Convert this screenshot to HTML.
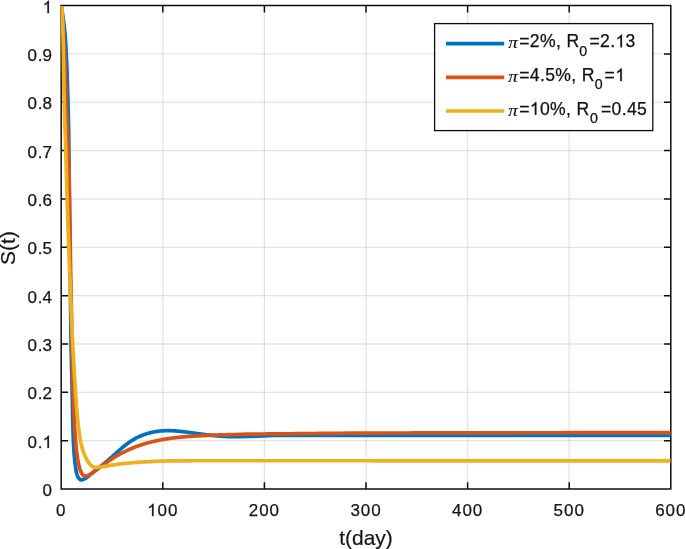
<!DOCTYPE html>
<html><head><meta charset="utf-8"><title>S(t)</title>
<style>
html,body{margin:0;padding:0;background:#fff;}
body{width:685px;height:549px;overflow:hidden;}
svg{display:block;will-change:transform;}
text{font-family:"Liberation Sans",sans-serif;fill:#151515;}
.tk{font-size:17px;stroke:#151515;stroke-width:0.25px;}
.g1{fill:#151515;stroke:#151515;}
path.tk{stroke-width:30.1176;}
path.lg{fill:#111;stroke:#111;stroke-width:29.0909;}
.lb{font-size:21px;stroke:#151515;stroke-width:0.2px;}
.lg{font-size:17.6px;fill:#111;stroke:#111;stroke-width:0.25px;}
</style></head><body>
<svg width="685" height="549" viewBox="0 0 685 549">
<rect x="0" y="0" width="685" height="549" fill="#fff"/>
<path d="M162.80 5.60 V489.00 M264.40 5.60 V489.00 M366.00 5.60 V489.00 M467.60 5.60 V489.00 M569.20 5.60 V489.00" stroke="rgba(30,30,30,0.12)" stroke-width="1.3" fill="none"/>
<path d="M61.20 440.66 H670.80 M61.20 392.32 H670.80 M61.20 343.98 H670.80 M61.20 295.64 H670.80 M61.20 247.30 H670.80 M61.20 198.96 H670.80 M61.20 150.62 H670.80 M61.20 102.28 H670.80 M61.20 53.94 H670.80" stroke="rgba(30,30,30,0.12)" stroke-width="1.3" fill="none"/>
<path d="M61.20 5.60 H670.80 V489.00 H61.20 Z M61.20 489.00 v-6.80 M61.20 5.60 v6.80 M162.80 489.00 v-6.80 M162.80 5.60 v6.80 M264.40 489.00 v-6.80 M264.40 5.60 v6.80 M366.00 489.00 v-6.80 M366.00 5.60 v6.80 M467.60 489.00 v-6.80 M467.60 5.60 v6.80 M569.20 489.00 v-6.80 M569.20 5.60 v6.80 M670.80 489.00 v-6.80 M670.80 5.60 v6.80 M61.20 489.00 h6.80 M670.80 489.00 h-6.80 M61.20 440.66 h6.80 M670.80 440.66 h-6.80 M61.20 392.32 h6.80 M670.80 392.32 h-6.80 M61.20 343.98 h6.80 M670.80 343.98 h-6.80 M61.20 295.64 h6.80 M670.80 295.64 h-6.80 M61.20 247.30 h6.80 M670.80 247.30 h-6.80 M61.20 198.96 h6.80 M670.80 198.96 h-6.80 M61.20 150.62 h6.80 M670.80 150.62 h-6.80 M61.20 102.28 h6.80 M670.80 102.28 h-6.80 M61.20 53.94 h6.80 M670.80 53.94 h-6.80 M61.20 5.60 h6.80 M670.80 5.60 h-6.80" stroke="#0e0e0e" stroke-width="1.5" fill="none" stroke-linecap="butt" stroke-linejoin="miter"/>
<defs><clipPath id="c"><rect x="60.30" y="6.30" width="610.40" height="483.40"/></clipPath></defs>
<g clip-path="url(#c)" fill="none" stroke-width="3.7" stroke-linejoin="round" stroke-linecap="butt">
<path d="M61.30 5.70 L61.90 9.62 L62.48 13.54 L63.05 17.46 L63.59 21.37 L64.09 25.29 L64.55 29.21 L64.95 33.13 L65.29 37.05 L65.56 40.97 L65.80 44.88 L66.01 48.80 L66.22 52.72 L66.41 56.64 L66.58 60.56 L66.75 64.48 L66.90 68.40 L67.05 72.31 L67.18 76.23 L67.31 80.15 L67.44 84.07 L67.55 87.99 L67.67 91.91 L67.78 95.83 L67.89 99.74 L68.00 103.66 L68.11 107.58 L68.22 111.50 L68.32 115.42 L68.41 119.34 L68.50 123.25 L68.59 127.17 L68.66 131.09 L68.73 135.01 L68.79 138.93 L68.83 142.85 L68.88 146.77 L68.92 150.68 L68.95 154.60 L68.99 158.52 L69.02 162.44 L69.04 166.36 L69.07 170.28 L69.10 174.19 L69.13 178.11 L69.15 182.03 L69.18 185.95 L69.21 189.87 L69.24 193.79 L69.28 197.71 L69.32 201.62 L69.36 205.54 L69.40 209.46 L69.44 213.38 L69.49 217.30 L69.54 221.22 L69.59 225.14 L69.64 229.05 L69.69 232.97 L69.74 236.89 L69.79 240.81 L69.84 244.73 L69.89 248.65 L69.95 252.56 L70.00 256.48 L70.05 260.40 L70.10 264.32 L70.15 268.24 L70.20 272.16 L70.25 276.08 L70.30 279.99 L70.35 283.91 L70.39 287.83 L70.43 291.75 L70.47 295.67 L70.51 299.59 L70.55 303.51 L70.60 307.42 L70.64 311.34 L70.68 315.26 L70.72 319.18 L70.77 323.10 L70.82 327.02 L70.87 330.93 L70.92 334.85 L70.98 338.77 L71.04 342.69 L71.12 346.61 L71.20 350.53 L71.28 354.45 L71.38 358.36 L71.47 362.28 L71.57 366.20 L71.66 370.12 L71.76 374.04 L71.85 377.96 L71.94 381.87 L72.03 385.79 L72.11 389.71 L72.18 393.63 L72.26 397.55 L72.33 401.47 L72.41 405.39 L72.49 409.30 L72.57 413.22 L72.66 417.14 L72.75 421.06 L72.86 424.98 L72.97 428.90 L73.09 432.82 L73.23 436.73 L73.39 440.65 L73.58 444.57 L73.81 448.49 L74.07 452.41 L74.36 456.33 L74.71 460.24 L75.16 464.16 L75.71 468.08 L76.30 472.00 L76.81 473.77 L77.33 475.38 L77.84 476.72 L78.36 477.70 L78.87 478.35 L79.38 478.92 L79.90 479.41 L80.41 479.77 L80.93 479.97 L81.44 479.99 L81.95 479.91 L82.47 479.77 L82.98 479.58 L83.50 479.35 L84.01 479.10 L84.52 478.84 L85.04 478.58 L85.55 478.31 L86.07 478.00 L86.58 477.66 L87.09 477.29 L87.61 476.89 L88.12 476.47 L88.64 476.04 L89.15 475.60 L89.67 475.16 L90.18 474.71 L90.69 474.27 L91.21 473.84 L91.72 473.42 L92.24 473.02 L92.75 472.61 L93.26 472.21 L93.78 471.81 L94.29 471.40 L94.81 471.00 L95.32 470.59 L95.83 470.19 L96.35 469.78 L96.86 469.38 L97.38 468.98 L97.89 468.58 L98.40 468.17 L98.92 467.77 L99.43 467.37 L99.95 466.97 L100.46 466.56 L100.97 466.16 L101.49 465.75 L102.00 465.33 L102.52 464.91 L103.03 464.49 L103.54 464.06 L104.06 463.63 L104.57 463.20 L105.09 462.77 L105.60 462.34 L106.11 461.91 L106.63 461.47 L107.14 461.03 L107.66 460.59 L108.17 460.15 L108.68 459.71 L109.20 459.27 L109.71 458.82 L110.23 458.37 L110.74 457.92 L111.26 457.47 L111.77 457.02 L112.28 456.56 L112.80 456.11 L113.31 455.65 L113.83 455.19 L114.34 454.73 L114.85 454.26 L115.37 453.80 L115.88 453.34 L116.40 452.87 L116.91 452.41 L117.42 451.95 L117.94 451.49 L118.45 451.03 L118.97 450.57 L119.48 450.12 L119.99 449.67 L120.51 449.22 L121.02 448.77 L121.54 448.33 L122.05 447.89 L122.56 447.46 L123.08 447.03 L123.59 446.60 L124.11 446.18 L124.62 445.77 L125.13 445.36 L125.65 444.96 L126.16 444.56 L126.68 444.16 L127.19 443.78 L127.70 443.40 L128.22 443.02 L128.73 442.66 L129.25 442.29 L129.76 441.94 L130.27 441.59 L130.79 441.25 L131.30 440.92 L131.82 440.59 L132.33 440.27 L132.85 439.96 L133.36 439.65 L133.87 439.35 L134.39 439.06 L134.90 438.77 L135.42 438.49 L135.93 438.22 L136.44 437.95 L136.96 437.68 L137.47 437.43 L137.99 437.18 L138.50 436.93 L139.01 436.69 L139.53 436.46 L140.04 436.23 L140.56 436.01 L141.07 435.79 L141.58 435.58 L142.10 435.37 L142.61 435.17 L143.13 434.97 L143.64 434.78 L144.15 434.59 L144.67 434.41 L145.18 434.24 L145.70 434.07 L146.21 433.90 L146.72 433.74 L147.24 433.58 L147.75 433.43 L148.27 433.28 L148.78 433.14 L149.29 433.00 L149.81 432.87 L150.32 432.74 L150.84 432.61 L151.35 432.49 L151.86 432.37 L152.38 432.26 L152.89 432.15 L153.41 432.05 L153.92 431.95 L154.44 431.86 L154.95 431.76 L155.46 431.68 L155.98 431.59 L156.49 431.51 L157.01 431.44 L157.52 431.36 L158.03 431.30 L158.55 431.23 L159.06 431.17 L159.58 431.11 L160.09 431.06 L160.60 431.01 L161.12 430.96 L161.63 430.92 L162.15 430.88 L162.66 430.85 L163.17 430.81 L163.69 430.78 L164.20 430.76 L164.72 430.73 L165.23 430.72 L165.74 430.70 L166.26 430.69 L166.77 430.68 L167.29 430.67 L167.80 430.67 L168.31 430.67 L168.83 430.67 L169.34 430.67 L169.86 430.68 L170.37 430.69 L170.88 430.71 L171.40 430.73 L171.91 430.75 L172.43 430.77 L172.94 430.79 L173.45 430.82 L173.97 430.85 L174.48 430.88 L175.00 430.92 L175.51 430.95 L176.03 430.99 L176.54 431.03 L177.05 431.07 L177.57 431.12 L178.08 431.16 L178.60 431.21 L179.11 431.26 L179.62 431.31 L180.14 431.36 L180.65 431.42 L181.17 431.47 L181.68 431.53 L182.19 431.58 L182.71 431.64 L183.22 431.70 L183.74 431.76 L184.25 431.82 L184.76 431.89 L185.28 431.95 L185.79 432.01 L186.31 432.08 L186.82 432.14 L187.33 432.21 L187.85 432.28 L188.36 432.34 L188.88 432.41 L189.39 432.48 L189.90 432.55 L190.42 432.62 L190.93 432.69 L191.45 432.76 L191.96 432.83 L192.47 432.90 L192.99 432.97 L193.50 433.04 L194.02 433.11 L194.53 433.18 L195.04 433.25 L195.56 433.32 L196.07 433.39 L196.59 433.46 L197.10 433.53 L197.62 433.60 L198.13 433.67 L198.64 433.74 L199.16 433.81 L199.67 433.88 L200.19 433.95 L200.70 434.02 L201.21 434.09 L201.73 434.16 L202.24 434.23 L202.76 434.29 L203.27 434.36 L203.78 434.42 L204.30 434.49 L204.81 434.56 L205.33 434.62 L205.84 434.68 L206.35 434.75 L206.87 434.81 L207.38 434.87 L207.90 434.93 L208.41 434.99 L208.92 435.05 L209.44 435.11 L209.95 435.17 L210.47 435.23 L210.98 435.28 L211.49 435.34 L212.01 435.39 L212.52 435.45 L213.04 435.50 L213.55 435.55 L214.06 435.60 L214.58 435.65 L215.09 435.70 L215.61 435.75 L216.12 435.80 L216.63 435.84 L217.15 435.89 L217.66 435.93 L218.18 435.97 L218.69 436.02 L219.21 436.06 L219.72 436.10 L220.23 436.14 L220.75 436.17 L221.26 436.21 L221.78 436.24 L222.29 436.28 L222.80 436.31 L223.32 436.34 L223.83 436.37 L224.35 436.40 L224.86 436.43 L225.37 436.46 L225.89 436.48 L226.40 436.50 L226.92 436.53 L227.43 436.55 L227.94 436.57 L228.46 436.59 L228.97 436.61 L229.49 436.62 L230.00 436.64 L235.58 436.71 L241.16 436.66 L246.74 436.52 L252.32 436.32 L257.90 436.07 L263.48 435.82 L269.06 435.63 L274.64 435.50 L280.22 435.45 L285.80 435.42 L291.38 435.40 L296.96 435.39 L302.54 435.37 L308.12 435.36 L313.70 435.35 L319.28 435.35 L324.86 435.35 L330.44 435.35 L336.02 435.35 L341.59 435.35 L347.17 435.36 L352.75 435.36 L358.33 435.36 L363.91 435.36 L369.49 435.37 L375.07 435.37 L380.65 435.37 L386.23 435.38 L391.81 435.38 L397.39 435.38 L402.97 435.39 L408.55 435.39 L414.13 435.39 L419.71 435.39 L425.29 435.40 L430.87 435.40 L436.45 435.40 L442.03 435.40 L447.61 435.40 L453.19 435.40 L458.77 435.40 L464.35 435.40 L469.93 435.40 L475.51 435.40 L481.09 435.40 L486.67 435.40 L492.25 435.40 L497.83 435.40 L503.41 435.40 L508.99 435.40 L514.57 435.40 L520.15 435.40 L525.73 435.40 L531.31 435.40 L536.89 435.40 L542.47 435.40 L548.05 435.40 L553.63 435.40 L559.21 435.40 L564.78 435.40 L570.36 435.40 L575.94 435.40 L581.52 435.40 L587.10 435.40 L592.68 435.40 L598.26 435.40 L603.84 435.40 L609.42 435.40 L615.00 435.40 L620.58 435.40 L626.16 435.40 L631.74 435.40 L637.32 435.40 L642.90 435.40 L648.48 435.40 L654.06 435.40 L659.64 435.40 L665.22 435.40 L670.80 435.40" stroke="#0072BD"/>
<path d="M61.30 5.70 L61.66 9.58 L62.02 13.46 L62.36 17.34 L62.70 21.22 L63.01 25.09 L63.31 28.97 L63.58 32.85 L63.82 36.73 L64.03 40.61 L64.22 44.49 L64.40 48.37 L64.56 52.25 L64.72 56.13 L64.86 60.01 L65.00 63.88 L65.13 67.76 L65.25 71.64 L65.38 75.52 L65.50 79.40 L65.62 83.28 L65.75 87.16 L65.88 91.04 L66.01 94.92 L66.15 98.80 L66.30 102.67 L66.46 106.55 L66.61 110.43 L66.77 114.31 L66.93 118.19 L67.09 122.07 L67.25 125.95 L67.41 129.83 L67.56 133.71 L67.71 137.59 L67.86 141.46 L68.00 145.34 L68.15 149.22 L68.31 153.10 L68.46 156.98 L68.60 160.86 L68.74 164.74 L68.87 168.62 L69.00 172.50 L69.11 176.38 L69.21 180.25 L69.29 184.13 L69.37 188.01 L69.45 191.89 L69.51 195.77 L69.58 199.65 L69.64 203.53 L69.70 207.41 L69.76 211.29 L69.82 215.17 L69.88 219.04 L69.95 222.92 L70.01 226.80 L70.07 230.68 L70.12 234.56 L70.18 238.44 L70.23 242.32 L70.29 246.20 L70.34 250.08 L70.40 253.96 L70.45 257.83 L70.51 261.71 L70.57 265.59 L70.63 269.47 L70.69 273.35 L70.75 277.23 L70.82 281.11 L70.89 284.99 L70.96 288.87 L71.04 292.75 L71.12 296.62 L71.20 300.50 L71.28 304.38 L71.36 308.26 L71.44 312.14 L71.52 316.02 L71.60 319.90 L71.67 323.78 L71.75 327.66 L71.82 331.54 L71.89 335.41 L71.95 339.29 L72.02 343.17 L72.09 347.05 L72.16 350.93 L72.23 354.81 L72.31 358.69 L72.39 362.57 L72.47 366.45 L72.56 370.33 L72.65 374.20 L72.75 378.08 L72.85 381.96 L72.97 385.84 L73.08 389.72 L73.21 393.60 L73.34 397.48 L73.48 401.36 L73.63 405.24 L73.79 409.12 L73.95 412.99 L74.13 416.87 L74.32 420.75 L74.53 424.63 L74.74 428.51 L74.97 432.39 L75.22 436.27 L75.50 440.15 L75.84 444.03 L76.23 447.91 L76.67 451.78 L77.17 455.66 L77.74 459.54 L78.51 463.42 L79.40 467.30 L79.90 468.97 L80.41 470.51 L80.91 471.83 L81.41 472.86 L81.92 473.66 L82.42 474.42 L82.93 475.10 L83.43 475.65 L83.93 476.04 L84.44 476.20 L84.94 476.18 L85.44 476.12 L85.95 476.01 L86.45 475.88 L86.96 475.74 L87.46 475.57 L87.96 475.41 L88.47 475.24 L88.97 475.02 L89.47 474.78 L89.98 474.50 L90.48 474.20 L90.98 473.88 L91.49 473.55 L91.99 473.19 L92.50 472.83 L93.00 472.46 L93.50 472.09 L94.01 471.72 L94.51 471.35 L95.01 470.98 L95.52 470.61 L96.02 470.23 L96.53 469.83 L97.03 469.42 L97.53 469.00 L98.04 468.59 L98.54 468.18 L99.04 467.77 L99.55 467.38 L100.05 466.99 L100.55 466.61 L101.06 466.24 L101.56 465.89 L102.07 465.53 L102.57 465.19 L103.07 464.85 L103.58 464.51 L104.08 464.16 L104.58 463.82 L105.09 463.47 L105.59 463.13 L106.09 462.78 L106.60 462.43 L107.10 462.09 L107.61 461.74 L108.11 461.40 L108.61 461.06 L109.12 460.72 L109.62 460.39 L110.12 460.06 L110.63 459.72 L111.13 459.40 L111.64 459.07 L112.14 458.75 L112.64 458.43 L113.15 458.11 L113.65 457.79 L114.15 457.48 L114.66 457.17 L115.16 456.86 L115.66 456.56 L116.17 456.26 L116.67 455.96 L117.18 455.66 L117.68 455.37 L118.18 455.08 L118.69 454.79 L119.19 454.51 L119.69 454.23 L120.20 453.95 L120.70 453.67 L121.21 453.40 L121.71 453.13 L122.21 452.86 L122.72 452.60 L123.22 452.34 L123.72 452.08 L124.23 451.82 L124.73 451.57 L125.23 451.32 L125.74 451.07 L126.24 450.83 L126.75 450.59 L127.25 450.35 L127.75 450.12 L128.26 449.89 L128.76 449.66 L129.26 449.43 L129.77 449.21 L130.27 448.99 L130.78 448.78 L131.28 448.56 L131.78 448.35 L132.29 448.14 L132.79 447.93 L133.29 447.73 L133.80 447.53 L134.30 447.33 L134.80 447.14 L135.31 446.94 L135.81 446.75 L136.32 446.56 L136.82 446.38 L137.32 446.19 L137.83 446.01 L138.33 445.83 L138.83 445.66 L139.34 445.48 L139.84 445.31 L140.35 445.14 L140.85 444.97 L141.35 444.81 L141.86 444.65 L142.36 444.48 L142.86 444.33 L143.37 444.17 L143.87 444.01 L144.37 443.86 L144.88 443.71 L145.38 443.56 L145.89 443.42 L146.39 443.27 L146.89 443.13 L147.40 442.99 L147.90 442.85 L148.40 442.71 L148.91 442.58 L149.41 442.44 L149.92 442.31 L150.42 442.18 L150.92 442.06 L151.43 441.93 L151.93 441.81 L152.43 441.68 L152.94 441.56 L153.44 441.44 L153.94 441.33 L154.45 441.21 L154.95 441.10 L155.46 440.99 L155.96 440.87 L156.46 440.77 L156.97 440.66 L157.47 440.55 L157.97 440.45 L158.48 440.35 L158.98 440.24 L159.48 440.14 L159.99 440.05 L160.49 439.95 L161.00 439.85 L161.50 439.76 L162.00 439.67 L162.51 439.58 L163.01 439.49 L163.51 439.40 L164.02 439.31 L164.52 439.23 L165.03 439.14 L165.53 439.06 L166.03 438.98 L166.54 438.90 L167.04 438.82 L167.54 438.75 L168.05 438.67 L168.55 438.60 L169.05 438.52 L169.56 438.45 L170.06 438.38 L170.57 438.31 L171.07 438.24 L171.57 438.17 L172.08 438.11 L172.58 438.04 L173.08 437.98 L173.59 437.92 L174.09 437.86 L174.60 437.80 L175.10 437.74 L175.60 437.68 L176.11 437.62 L176.61 437.56 L177.11 437.51 L177.62 437.45 L178.12 437.40 L178.62 437.35 L179.13 437.30 L179.63 437.25 L180.14 437.20 L180.64 437.15 L181.14 437.10 L181.65 437.05 L182.15 437.00 L182.65 436.96 L183.16 436.91 L183.66 436.87 L184.17 436.83 L184.67 436.78 L185.17 436.74 L185.68 436.70 L186.18 436.66 L186.68 436.62 L187.19 436.58 L187.69 436.54 L188.19 436.50 L188.70 436.47 L189.20 436.43 L189.71 436.39 L190.21 436.36 L190.71 436.32 L191.22 436.29 L191.72 436.25 L192.22 436.22 L192.73 436.19 L193.23 436.15 L193.74 436.12 L194.24 436.09 L194.74 436.06 L195.25 436.03 L195.75 436.00 L196.25 435.97 L196.76 435.94 L197.26 435.91 L197.76 435.88 L198.27 435.85 L198.77 435.83 L199.28 435.80 L199.78 435.77 L200.28 435.75 L200.79 435.72 L201.29 435.70 L201.79 435.67 L202.30 435.65 L202.80 435.62 L203.31 435.60 L203.81 435.57 L204.31 435.55 L204.82 435.53 L205.32 435.50 L205.82 435.48 L206.33 435.46 L206.83 435.44 L207.33 435.41 L207.84 435.39 L208.34 435.37 L208.85 435.35 L209.35 435.33 L209.85 435.31 L210.36 435.29 L210.86 435.27 L211.36 435.25 L211.87 435.23 L212.37 435.21 L212.87 435.19 L213.38 435.17 L213.88 435.15 L214.39 435.13 L214.89 435.11 L215.39 435.10 L215.90 435.08 L216.40 435.06 L216.90 435.04 L217.41 435.02 L217.91 435.01 L218.42 434.99 L218.92 434.97 L219.42 434.95 L219.93 434.94 L220.43 434.92 L220.93 434.90 L221.44 434.89 L221.94 434.87 L222.44 434.85 L222.95 434.84 L223.45 434.82 L223.96 434.81 L224.46 434.79 L224.96 434.78 L225.47 434.76 L225.97 434.75 L226.47 434.73 L226.98 434.72 L227.48 434.70 L227.99 434.69 L228.49 434.67 L228.99 434.66 L229.50 434.64 L230.00 434.63 L235.58 434.48 L241.16 434.35 L246.74 434.22 L252.32 434.12 L257.90 434.04 L263.48 433.98 L269.06 433.93 L274.64 433.90 L280.22 433.85 L285.80 433.79 L291.38 433.73 L296.96 433.67 L302.54 433.61 L308.12 433.55 L313.70 433.50 L319.28 433.44 L324.86 433.39 L330.44 433.34 L336.02 433.30 L341.59 433.25 L347.17 433.22 L352.75 433.18 L358.33 433.16 L363.91 433.13 L369.49 433.11 L375.07 433.09 L380.65 433.07 L386.23 433.05 L391.81 433.03 L397.39 433.02 L402.97 433.00 L408.55 432.98 L414.13 432.97 L419.71 432.95 L425.29 432.94 L430.87 432.92 L436.45 432.91 L442.03 432.90 L447.61 432.89 L453.19 432.88 L458.77 432.87 L464.35 432.85 L469.93 432.85 L475.51 432.84 L481.09 432.83 L486.67 432.82 L492.25 432.81 L497.83 432.80 L503.41 432.80 L508.99 432.79 L514.57 432.78 L520.15 432.77 L525.73 432.77 L531.31 432.76 L536.89 432.75 L542.47 432.75 L548.05 432.74 L553.63 432.73 L559.21 432.73 L564.78 432.72 L570.36 432.71 L575.94 432.71 L581.52 432.70 L587.10 432.70 L592.68 432.69 L598.26 432.68 L603.84 432.68 L609.42 432.68 L615.00 432.67 L620.58 432.67 L626.16 432.66 L631.74 432.66 L637.32 432.66 L642.90 432.66 L648.48 432.65 L654.06 432.65 L659.64 432.65 L665.22 432.65 L670.80 432.65" stroke="#D95319"/>
<path d="M62.10 5.70 L62.23 9.50 L62.35 13.30 L62.47 17.10 L62.59 20.90 L62.71 24.70 L62.81 28.51 L62.92 32.31 L63.01 36.11 L63.10 39.91 L63.18 43.71 L63.25 47.51 L63.32 51.31 L63.38 55.11 L63.44 58.91 L63.49 62.71 L63.55 66.51 L63.60 70.31 L63.65 74.12 L63.71 77.92 L63.76 81.72 L63.82 85.52 L63.89 89.32 L63.96 93.12 L64.03 96.92 L64.12 100.72 L64.21 104.52 L64.32 108.32 L64.44 112.12 L64.56 115.92 L64.70 119.73 L64.83 123.53 L64.97 127.33 L65.10 131.13 L65.23 134.93 L65.36 138.73 L65.48 142.53 L65.60 146.33 L65.71 150.13 L65.83 153.93 L65.94 157.73 L66.05 161.53 L66.16 165.34 L66.28 169.14 L66.39 172.94 L66.50 176.74 L66.62 180.54 L66.73 184.34 L66.84 188.14 L66.95 191.94 L67.06 195.74 L67.17 199.54 L67.28 203.34 L67.40 207.14 L67.51 210.95 L67.63 214.75 L67.75 218.55 L67.88 222.35 L68.01 226.15 L68.14 229.95 L68.27 233.75 L68.40 237.55 L68.54 241.35 L68.68 245.15 L68.82 248.95 L68.96 252.75 L69.10 256.56 L69.25 260.36 L69.39 264.16 L69.54 267.96 L69.68 271.76 L69.83 275.56 L69.98 279.36 L70.12 283.16 L70.27 286.96 L70.42 290.76 L70.56 294.56 L70.71 298.36 L70.87 302.17 L71.02 305.97 L71.17 309.77 L71.33 313.57 L71.49 317.37 L71.65 321.17 L71.81 324.97 L71.98 328.77 L72.15 332.57 L72.32 336.37 L72.51 340.17 L72.70 343.97 L72.90 347.78 L73.11 351.58 L73.32 355.38 L73.54 359.18 L73.76 362.98 L73.99 366.78 L74.22 370.58 L74.45 374.38 L74.69 378.18 L74.92 381.98 L75.15 385.78 L75.38 389.58 L75.61 393.39 L75.86 397.19 L76.11 400.99 L76.39 404.79 L76.68 408.59 L77.01 412.39 L77.35 416.19 L77.72 419.99 L78.12 423.79 L78.56 427.59 L79.04 431.39 L79.57 435.19 L80.16 439.00 L80.88 442.80 L81.76 446.60 L82.82 450.40 L84.23 454.20 L85.90 458.00 L86.38 458.89 L86.86 459.74 L87.35 460.54 L87.83 461.31 L88.31 462.03 L88.79 462.70 L89.27 463.33 L89.76 463.90 L90.24 464.48 L90.72 465.03 L91.20 465.53 L91.68 465.97 L92.17 466.32 L92.65 466.56 L93.13 466.77 L93.61 466.96 L94.09 467.11 L94.57 467.23 L95.06 467.29 L95.54 467.29 L96.02 467.28 L96.50 467.26 L96.98 467.23 L97.47 467.20 L97.95 467.17 L98.43 467.14 L98.91 467.11 L99.39 467.08 L99.88 467.05 L100.36 467.01 L100.84 466.97 L101.32 466.93 L101.80 466.87 L102.29 466.81 L102.77 466.74 L103.25 466.67 L103.73 466.59 L104.21 466.50 L104.70 466.42 L105.18 466.33 L105.66 466.23 L106.14 466.14 L106.62 466.05 L107.11 465.96 L107.59 465.88 L108.07 465.79 L108.55 465.71 L109.03 465.62 L109.52 465.54 L110.00 465.46 L110.48 465.38 L110.96 465.30 L111.44 465.22 L111.92 465.15 L112.41 465.07 L112.89 464.99 L113.37 464.92 L113.85 464.85 L114.33 464.78 L114.82 464.71 L115.30 464.64 L115.78 464.57 L116.26 464.50 L116.74 464.44 L117.23 464.37 L117.71 464.31 L118.19 464.24 L118.67 464.18 L119.15 464.12 L119.64 464.06 L120.12 464.00 L120.60 463.94 L121.08 463.88 L121.56 463.82 L122.05 463.77 L122.53 463.71 L123.01 463.66 L123.49 463.60 L123.97 463.55 L124.46 463.50 L124.94 463.45 L125.42 463.40 L125.90 463.35 L126.38 463.30 L126.86 463.25 L127.35 463.20 L127.83 463.15 L128.31 463.11 L128.79 463.06 L129.27 463.02 L129.76 462.97 L130.24 462.93 L130.72 462.89 L131.20 462.84 L131.68 462.80 L132.17 462.76 L132.65 462.72 L133.13 462.68 L133.61 462.64 L134.09 462.60 L134.58 462.57 L135.06 462.53 L135.54 462.49 L136.02 462.46 L136.50 462.42 L136.99 462.39 L137.47 462.35 L137.95 462.32 L138.43 462.28 L138.91 462.25 L139.40 462.22 L139.88 462.19 L140.36 462.16 L140.84 462.12 L141.32 462.09 L141.81 462.06 L142.29 462.04 L142.77 462.01 L143.25 461.98 L143.73 461.95 L144.21 461.92 L144.70 461.89 L145.18 461.87 L145.66 461.84 L146.14 461.82 L146.62 461.79 L147.11 461.76 L147.59 461.74 L148.07 461.72 L148.55 461.69 L149.03 461.67 L149.52 461.64 L150.00 461.62 L150.48 461.60 L150.96 461.58 L151.44 461.55 L151.93 461.53 L152.41 461.51 L152.89 461.48 L153.37 461.46 L153.85 461.44 L154.34 461.42 L154.82 461.40 L155.30 461.37 L155.78 461.35 L156.26 461.33 L156.75 461.31 L157.23 461.29 L157.71 461.27 L158.19 461.25 L158.67 461.23 L159.15 461.21 L159.64 461.19 L160.12 461.17 L160.60 461.15 L161.08 461.14 L161.56 461.12 L162.05 461.10 L162.53 461.09 L163.01 461.07 L163.49 461.06 L163.97 461.04 L164.46 461.03 L164.94 461.02 L165.42 461.01 L165.90 461.00 L166.38 460.99 L166.87 460.98 L167.35 460.97 L167.83 460.96 L168.31 460.95 L168.79 460.94 L169.28 460.93 L169.76 460.93 L170.24 460.92 L170.72 460.91 L171.20 460.91 L171.69 460.90 L172.17 460.90 L172.65 460.90 L173.13 460.89 L173.61 460.89 L174.09 460.88 L174.58 460.88 L175.06 460.88 L175.54 460.87 L176.02 460.87 L176.50 460.87 L176.99 460.87 L177.47 460.86 L177.95 460.86 L178.43 460.86 L178.91 460.86 L179.40 460.85 L179.88 460.85 L180.36 460.85 L180.84 460.84 L181.32 460.84 L181.81 460.84 L182.29 460.83 L182.77 460.83 L183.25 460.83 L183.73 460.82 L184.22 460.82 L184.70 460.82 L185.18 460.81 L185.66 460.81 L186.14 460.81 L186.63 460.81 L187.11 460.80 L187.59 460.80 L188.07 460.80 L188.55 460.79 L189.04 460.79 L189.52 460.79 L190.00 460.78 L190.48 460.78 L190.96 460.78 L191.44 460.78 L191.93 460.77 L192.41 460.77 L192.89 460.77 L193.37 460.77 L193.85 460.76 L194.34 460.76 L194.82 460.76 L195.30 460.76 L195.78 460.76 L196.26 460.76 L196.75 460.75 L197.23 460.75 L197.71 460.75 L198.19 460.75 L198.67 460.75 L199.16 460.75 L199.64 460.75 L200.12 460.75 L200.60 460.75 L201.08 460.75 L201.57 460.75 L202.05 460.75 L202.53 460.75 L203.01 460.75 L203.49 460.75 L203.98 460.75 L204.46 460.75 L204.94 460.75 L205.42 460.75 L205.90 460.75 L206.38 460.75 L206.87 460.75 L207.35 460.75 L207.83 460.75 L208.31 460.75 L208.79 460.75 L209.28 460.75 L209.76 460.75 L210.24 460.75 L210.72 460.75 L211.20 460.75 L211.69 460.75 L212.17 460.75 L212.65 460.75 L213.13 460.75 L213.61 460.75 L214.10 460.75 L214.58 460.75 L215.06 460.75 L215.54 460.75 L216.02 460.75 L216.51 460.75 L216.99 460.75 L217.47 460.75 L217.95 460.75 L218.43 460.75 L218.92 460.75 L219.40 460.75 L219.88 460.75 L220.36 460.75 L220.84 460.75 L221.33 460.75 L221.81 460.75 L222.29 460.75 L222.77 460.75 L223.25 460.75 L223.73 460.75 L224.22 460.75 L224.70 460.75 L225.18 460.75 L225.66 460.75 L226.14 460.75 L226.63 460.75 L227.11 460.75 L227.59 460.75 L228.07 460.75 L228.55 460.75 L229.04 460.75 L229.52 460.75 L230.00 460.75 L235.58 460.75 L241.16 460.75 L246.74 460.75 L252.32 460.75 L257.90 460.75 L263.48 460.75 L269.06 460.75 L274.64 460.75 L280.22 460.75 L285.80 460.75 L291.38 460.75 L296.96 460.75 L302.54 460.75 L308.12 460.75 L313.70 460.75 L319.28 460.75 L324.86 460.75 L330.44 460.76 L336.02 460.76 L341.59 460.76 L347.17 460.76 L352.75 460.76 L358.33 460.77 L363.91 460.77 L369.49 460.77 L375.07 460.78 L380.65 460.78 L386.23 460.78 L391.81 460.78 L397.39 460.79 L402.97 460.79 L408.55 460.79 L414.13 460.79 L419.71 460.79 L425.29 460.80 L430.87 460.80 L436.45 460.80 L442.03 460.80 L447.61 460.80 L453.19 460.80 L458.77 460.80 L464.35 460.80 L469.93 460.80 L475.51 460.80 L481.09 460.80 L486.67 460.80 L492.25 460.80 L497.83 460.80 L503.41 460.80 L508.99 460.80 L514.57 460.80 L520.15 460.80 L525.73 460.80 L531.31 460.80 L536.89 460.80 L542.47 460.80 L548.05 460.80 L553.63 460.80 L559.21 460.80 L564.78 460.80 L570.36 460.80 L575.94 460.80 L581.52 460.80 L587.10 460.80 L592.68 460.80 L598.26 460.80 L603.84 460.80 L609.42 460.80 L615.00 460.80 L620.58 460.80 L626.16 460.80 L631.74 460.80 L637.32 460.80 L642.90 460.80 L648.48 460.80 L654.06 460.80 L659.64 460.80 L665.22 460.80 L670.80 460.80" stroke="#EDB120"/>
</g>
<text class="tk" x="56.00" y="516.00">0</text>
<path class="g1 tk" transform="translate(147.20,516.00) scale(0.00830,-0.00830)" d="M763 0H583V1147Q518 1085 412.5 1023T223 930V1104Q374 1175 487 1276T647 1472H763Z"/>
<text class="tk" x="157.60 168.00" y="516.00">00</text>
<text class="tk" x="248.80 259.20 269.60" y="516.00">200</text>
<text class="tk" x="350.40 360.80 371.20" y="516.00">300</text>
<text class="tk" x="452.00 462.40 472.80" y="516.00">400</text>
<text class="tk" x="553.60 564.00 574.40" y="516.00">500</text>
<text class="tk" x="655.20 665.60 676.00" y="516.00">600</text>
<text class="tk" x="42.60" y="496.00">0</text>
<text class="tk" x="27.45 37.85" y="448.00">0.</text>
<path class="g1 tk" transform="translate(42.60,448.00) scale(0.00830,-0.00830)" d="M763 0H583V1147Q518 1085 412.5 1023T223 930V1104Q374 1175 487 1276T647 1472H763Z"/>
<text class="tk" x="27.45 37.85 42.60" y="399.00">0.2</text>
<text class="tk" x="27.45 37.85 42.60" y="351.00">0.3</text>
<text class="tk" x="27.45 37.85 42.60" y="303.00">0.4</text>
<text class="tk" x="27.45 37.85 42.60" y="254.00">0.5</text>
<text class="tk" x="27.45 37.85 42.60" y="206.00">0.6</text>
<text class="tk" x="27.45 37.85 42.60" y="158.00">0.7</text>
<text class="tk" x="27.45 37.85 42.60" y="109.00">0.8</text>
<text class="tk" x="27.45 37.85 42.60" y="61.00">0.9</text>
<path class="g1 tk" transform="translate(42.60,13.00) scale(0.00830,-0.00830)" d="M763 0H583V1147Q518 1085 412.5 1023T223 930V1104Q374 1175 487 1276T647 1472H763Z"/>
<text class="lb" x="366" y="545" text-anchor="middle">t(day)</text>
<text class="lb" transform="translate(15.0,248) rotate(-90)" text-anchor="middle">S(t)</text>
<rect x="434.6" y="23.6" width="218.2" height="107" fill="#fff" stroke="#0e0e0e" stroke-width="1.3"/>
<path d="M446 43.60 H504.2" stroke="#0072BD" stroke-width="3.7" fill="none"/>
<text class="lg" x="508.30" y="48.35" textLength="9.6" lengthAdjust="spacingAndGlyphs" style="font-family:'Liberation Serif',serif;font-style:italic;font-size:16.8px;stroke-width:0.1px">π</text>
<text class="lg" x="519.20 529.83 539.97 555.97 561.21 566.45" y="47.35">=2%, R</text>
<text class="lg" x="579.30" y="55.55" style="font-size:14.2px">0</text>
<text class="lg" x="589.40 600.03 610.17" y="47.35">=2.</text>
<path class="g1 lg" transform="translate(615.41,47.35) scale(0.00859,-0.00859)" d="M763 0H583V1147Q518 1085 412.5 1023T223 930V1104Q374 1175 487 1276T647 1472H763Z"/>
<text class="lg" x="625.54" y="47.35">3</text>
<path d="M446 77.30 H504.2" stroke="#D95319" stroke-width="3.7" fill="none"/>
<text class="lg" x="508.30" y="82.05" textLength="9.6" lengthAdjust="spacingAndGlyphs" style="font-family:'Liberation Serif',serif;font-style:italic;font-size:16.8px;stroke-width:0.1px">π</text>
<text class="lg" x="519.20 529.83 539.97 545.21 555.34 571.34 576.58 581.82" y="81.05">=4.5%, R</text>
<text class="lg" x="594.70" y="89.25" style="font-size:14.2px">0</text>
<text class="lg" x="604.60" y="81.05">=</text>
<path class="g1 lg" transform="translate(615.23,81.05) scale(0.00859,-0.00859)" d="M763 0H583V1147Q518 1085 412.5 1023T223 930V1104Q374 1175 487 1276T647 1472H763Z"/>
<path d="M446 111.00 H504.2" stroke="#EDB120" stroke-width="3.7" fill="none"/>
<text class="lg" x="508.30" y="115.75" textLength="9.6" lengthAdjust="spacingAndGlyphs" style="font-family:'Liberation Serif',serif;font-style:italic;font-size:16.8px;stroke-width:0.1px">π</text>
<text class="lg" x="519.20" y="114.75">=</text>
<path class="g1 lg" transform="translate(529.83,114.75) scale(0.00859,-0.00859)" d="M763 0H583V1147Q518 1085 412.5 1023T223 930V1104Q374 1175 487 1276T647 1472H763Z"/>
<text class="lg" x="539.97 550.10 566.10 571.34 576.58" y="114.75">0%, R</text>
<text class="lg" x="590.00" y="122.95" style="font-size:14.2px">0</text>
<text class="lg" x="600.90 611.53 621.67 626.91 637.04" y="114.75">=0.45</text>
</svg>
</body></html>
